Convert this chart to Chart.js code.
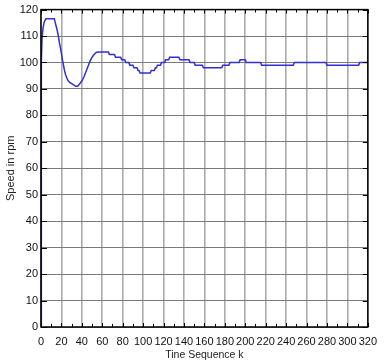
<!DOCTYPE html>
<html>
<head>
<meta charset="utf-8">
<script src="https://cdn.jsdelivr.net/npm/chart.js@4"></script>
<style>
  html, body { margin: 0; padding: 0; background: #fff; }
  #wrap { width: 385px; height: 360px; }
</style>
</head>
<body>
<div id="wrap"><canvas id="grafico"></canvas></div>
<script>
// dados
const sequenciaK = [0, 0.3, 1, 2, 3, 4, 5, 13, 14, 15, 16, 17, 18, 19, 20, 21, 22, 23, 24,
  26, 28, 30, 32, 34, 36, 38, 40, 42, 44, 46, 48, 50, 52, 54, 56,
  66, 67, 72, 73, 78, 79, 82, 83, 86, 87, 90, 91, 94, 95, 96, 97, 107, 108, 111, 112, 113, 114,
  117, 118, 121, 122, 125, 126, 135, 136, 145, 146, 150, 151, 158, 159, 177, 178, 184, 185,
  194, 195, 200, 201, 215, 216, 247, 248, 279, 280, 311, 312, 320]
const velocidade = [0, 100, 109, 113, 115, 116, 116.5, 116.5, 115, 113.5, 112, 110, 107.5, 105.5, 103.5, 101, 99, 97, 95.5,
  93.5, 92.5, 92, 91.5, 91, 91, 92, 93, 94.5, 96.5, 98.5, 100.5, 102, 103, 103.8, 104,
  104, 103, 103, 102, 102, 101, 101, 100, 100, 99, 99, 98, 98, 97, 97, 96, 96, 97, 97, 98, 98, 99,
  99, 100, 100, 101, 101, 102, 102, 101, 101, 100, 100, 99, 99, 98, 98, 99, 99, 100,
  100, 101, 101, 100, 100, 99, 99, 100, 100, 99, 99, 100, 100]
const xTicks = [0, 20, 40, 60, 80, 100, 120, 140, 160, 180, 200, 220, 240, 260, 280, 300, 320]
const yTicks = [0, 10, 20, 30, 40, 50, 60, 70, 80, 90, 100, 110, 120]
const xMenores = [0, 10, 20, 30, 40, 50, 60, 70, 80, 90, 100, 110, 120, 130, 140, 150, 160, 170, 180, 190, 200, 210, 220, 230, 240, 250, 260, 270, 280, 290, 300, 310, 320]

const fonte = { family: 'Liberation Sans, Arial', size: 11 }

// marquinhas internas nos quatro lados
const marcasInternas = {
  id: 'marcasInternas',
  afterDraw(chart) {
    const c = chart.ctx, a = chart.chartArea
    const sx = chart.scales.x, sy = chart.scales.y
    c.save()
    c.strokeStyle = '#000'
    c.lineWidth = 1
    c.beginPath()
    xMenores.forEach(v => {
      const px = Math.round(sx.getPixelForValue(v)) + 0.5
      const len = v % 20 === 0 ? 4 : 3
      c.moveTo(px, a.top); c.lineTo(px, a.top + len)
      c.moveTo(px, a.bottom); c.lineTo(px, a.bottom - len)
    })
    yTicks.forEach(v => {
      const py = Math.round(sy.getPixelForValue(v)) + 0.5
      c.moveTo(a.left, py); c.lineTo(a.left + 6, py)
      c.moveTo(a.right, py); c.lineTo(a.right - 5, py)
    })
    c.stroke()
    c.lineWidth = 1.5
    c.strokeRect(a.left, a.top, a.right - a.left, a.bottom - a.top)
    c.restore()
  }
}

new Chart(document.getElementById('grafico'), {
  type: 'line',
  data: {
    datasets: [{
      data: sequenciaK.map((k, i) => ({ x: k, y: velocidade[i] })),
      borderColor: '#3030d4',
      borderWidth: 1.5,
      pointRadius: 0,
      tension: 0,
      fill: false
    }]
  },
  options: {
    responsive: true,
    maintainAspectRatio: false,
    animation: false,
    layout: { padding: { left: 0, right: 0, top: 8, bottom: 0 } },
    plugins: { legend: { display: false }, tooltip: { enabled: false } },
    scales: {
      x: {
        type: 'linear',
        min: 0,
        max: 320,
        afterBuildTicks: s => { s.ticks = xTicks.map(v => ({ value: v })) },
        afterFit: s => { s.height = 33 },
        grid: { color: '#ababab', lineWidth: 1.6, drawTicks: false },
        border: { display: false },
        ticks: { color: '#111', font: fonte, padding: 8, maxRotation: 0, autoSkip: false },
        title: { display: true, text: 'Tine Sequence k', color: '#222', font: { family: 'Liberation Sans, Arial', size: 10.5, lineHeight: 1 }, padding: { top: 2, bottom: 0 } }
      },
      y: {
        min: 0,
        max: 120,
        afterBuildTicks: s => { s.ticks = yTicks.map(v => ({ value: v })) },
        afterFit: s => { s.width = 41 },
        grid: { color: '#7a7a7a', lineWidth: 1, drawTicks: false },
        border: { display: false },
        ticks: { color: '#111', font: fonte, padding: 3, autoSkip: false },
        title: { display: true, text: 'Speed in rpm', color: '#222', font: { family: 'Liberation Sans, Arial', size: 11 }, padding: { top: 4, bottom: 0 } }
      }
    }
  },
  plugins: [marcasInternas]
})
</script>
</body>
</html>
